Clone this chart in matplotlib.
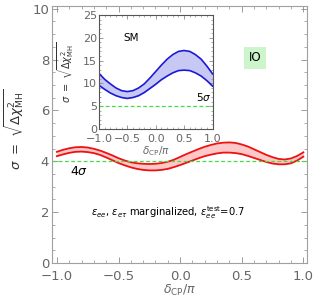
import numpy as np
import matplotlib.pyplot as plt
from matplotlib.ticker import MultipleLocator

# main panel: IO, marginalized band
dcp = [-1.0, -0.95, -0.9, -0.85, -0.8, -0.75, -0.7, -0.65, -0.6, -0.55, -0.5,
       -0.45, -0.4, -0.35, -0.3, -0.25, -0.2, -0.15, -0.1, -0.05, 0.0,
       0.05, 0.1, 0.15, 0.2, 0.25, 0.3, 0.35, 0.4, 0.45, 0.5,
       0.55, 0.6, 0.65, 0.7, 0.75, 0.8, 0.85, 0.9, 0.95, 1.0]
io_upper = [4.37, 4.45, 4.51, 4.55, 4.56, 4.54, 4.49, 4.42, 4.33, 4.23, 4.12,
            4.03, 3.96, 3.92, 3.90, 3.89, 3.90, 3.93, 3.98, 4.06, 4.17,
            4.28, 4.38, 4.48, 4.57, 4.64, 4.70, 4.73, 4.74, 4.72, 4.66,
            4.58, 4.47, 4.36, 4.25, 4.16, 4.09, 4.07, 4.11, 4.21, 4.35]
io_lower = [4.20, 4.27, 4.33, 4.37, 4.38, 4.36, 4.32, 4.25, 4.15, 4.04, 3.93,
            3.84, 3.76, 3.70, 3.66, 3.64, 3.64, 3.66, 3.70, 3.77, 3.85,
            3.94, 4.03, 4.12, 4.20, 4.26, 4.31, 4.34, 4.34, 4.32, 4.28,
            4.21, 4.13, 4.05, 3.97, 3.91, 3.88, 3.88, 3.92, 4.03, 4.18]

# inset: SM band
sm_dcp = [-1.0, -0.9, -0.8, -0.7, -0.6, -0.5, -0.4, -0.3, -0.2, -0.1, 0.0,
          0.1, 0.2, 0.3, 0.4, 0.5, 0.6, 0.7, 0.8, 0.9, 1.0]
sm_upper = [12.2, 10.9, 9.9, 9.0, 8.4, 8.2, 8.4, 9.0, 9.9, 11.2, 12.6,
            14.0, 15.3, 16.3, 17.0, 17.2, 17.0, 16.3, 15.3, 13.8, 12.1]
sm_lower = [9.6, 8.7, 7.9, 7.3, 6.9, 6.7, 6.9, 7.3, 8.0, 8.9, 9.8,
            10.8, 11.6, 12.3, 12.8, 12.9, 12.8, 12.3, 11.6, 10.6, 9.4]

gray = '#8c8c8c'
tgray = '#666666'
green = '#44dd44'

fig = plt.figure(figsize=(3.13, 2.97), dpi=100)
ax = fig.add_axes([0.166, 0.1145, 0.815, 0.865])

ax.fill_between(dcp, io_lower, io_upper, color='#ffc8c8', lw=0)
ax.plot(dcp, io_upper, color='#ee1111', lw=1.3)
ax.plot(dcp, io_lower, color='#ee1111', lw=1.3)
ax.axhline(4, color=green, ls=(0, (3, 2)), lw=0.9)

ax.set_xlim(-1.04, 1.03)
ax.set_ylim(0, 10.1)
ax.xaxis.set_major_locator(MultipleLocator(0.5))
ax.xaxis.set_minor_locator(MultipleLocator(0.1))
ax.yaxis.set_major_locator(MultipleLocator(2))
ax.yaxis.set_minor_locator(MultipleLocator(0.5))
ax.xaxis.set_major_formatter(plt.FuncFormatter(lambda v, p: f'{v:.1f}'.replace('-', '\u2212')))
ax.tick_params(which='both', direction='in', top=True, right=True, colors=gray,
               labelcolor=tgray, labelsize=9.5, pad=2)
ax.tick_params(axis='x', which='major', pad=5)
ax.tick_params(which='major', length=4, width=0.6)
ax.tick_params(which='minor', length=2, width=0.5)
for s in ax.spines.values():
    s.set_color('#a0a0a0')
    s.set_linewidth(0.8)

ax.set_xlabel(r'$\delta_{\rm CP}/\pi$', color=tgray, fontsize=9, labelpad=0)
ax.set_ylabel(r'$\sigma\ =\ \sqrt{\Delta\chi^2_{\rm MH}}$', color='#333333', fontsize=9.5)
ax.yaxis.set_label_coords(-0.1, 0.52)

ax.text(-0.82, 3.58, r'$4\sigma$', fontsize=9, ha='center', va='center')
ax.text(-0.1, 1.98, r'$\epsilon_{ee}$, $\epsilon_{e\tau}$ marginalized, $\epsilon_{ee}^{\rm test}$=0.7',
        fontsize=7.2, ha='center', va='center')
ax.text(0.61, 8.07, 'IO', fontsize=8.5, ha='center', va='center',
        bbox=dict(boxstyle='square,pad=0.4', fc='#ccf5cc', ec='none'))

# inset
ins = fig.add_axes([0.316, 0.5657, 0.363, 0.384])
ins.fill_between(sm_dcp, sm_lower, sm_upper, color='#c8c8f5', lw=0)
ins.plot(sm_dcp, sm_upper, color='#1a1ad6', lw=1.2)
ins.plot(sm_dcp, sm_lower, color='#1a1ad6', lw=1.2)
ins.axhline(5, color=green, ls=(0, (3, 2)), lw=0.9)

ins.set_xlim(-1.0, 1.0)
ins.set_ylim(0, 25)
ins.xaxis.set_major_locator(MultipleLocator(0.5))
ins.xaxis.set_minor_locator(MultipleLocator(0.1))
ins.yaxis.set_major_locator(MultipleLocator(5))
ins.yaxis.set_minor_locator(MultipleLocator(1))
ins.xaxis.set_major_formatter(plt.FuncFormatter(lambda v, p: f'{v:.1f}'.replace('-', '\u2212')))
ins.tick_params(which='both', direction='in', top=True, right=True, colors=gray,
                labelcolor=tgray, labelsize=8, pad=1.5)
ins.tick_params(axis='x', which='major', pad=3.5)
ins.tick_params(which='major', length=3, width=0.6)
ins.tick_params(which='minor', length=1.5, width=0.5)
for s in ins.spines.values():
    s.set_color('#555555')
    s.set_linewidth(0.8)
ins.set_xlabel(r'$\delta_{\rm CP}/\pi$', color=tgray, fontsize=7.5, labelpad=0)
ins.set_ylabel(r'$\sigma\ =\ \sqrt{\Delta\chi^2_{\rm MH}}$', color='#333333', fontsize=7)
ins.yaxis.set_label_coords(-0.2, 0.5)
ins.text(-0.44, 19.9, 'SM', fontsize=7.5, ha='center', va='center')
ins.text(0.84, 7.0, r'$5\sigma$', fontsize=7.5, ha='center', va='center')

fig.savefig('out.png', dpi=100)
